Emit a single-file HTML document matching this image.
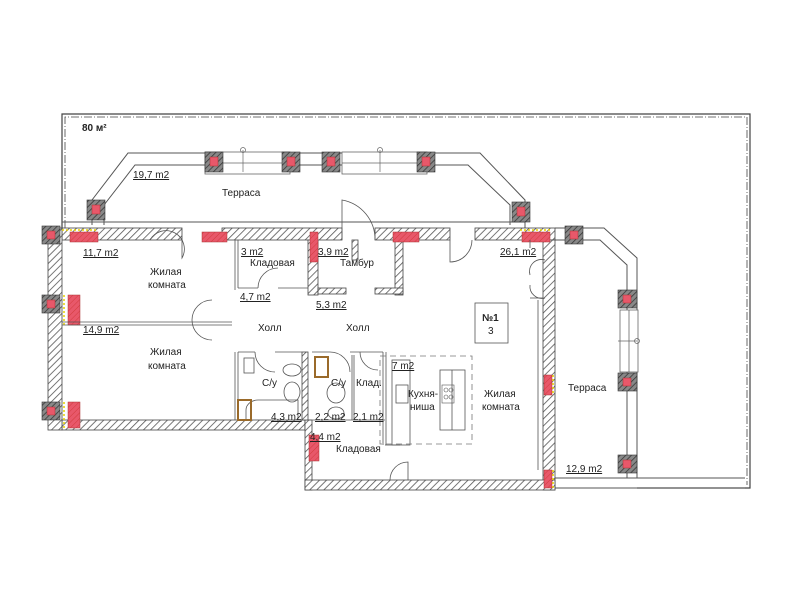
<!DOCTYPE html>
<html><head><meta charset="utf-8"><style>
html,body{margin:0;padding:0;background:#fff;}
svg{display:block;}
text{font-family:"Liberation Sans",sans-serif;font-size:10px;fill:#222;}
.u{text-decoration:underline;}
</style></head><body>
<svg width="800" height="600" viewBox="0 0 800 600" xmlns="http://www.w3.org/2000/svg">
<defs>
<pattern id="h" width="5" height="5" patternUnits="userSpaceOnUse" patternTransform="rotate(45)">
<rect width="5" height="5" fill="#fff"/><line x1="0" y1="0" x2="0" y2="5" stroke="#555" stroke-width="1.6"/></pattern>
<pattern id="hd" width="4" height="4" patternUnits="userSpaceOnUse" patternTransform="rotate(45)">
<rect width="4" height="4" fill="#888"/><line x1="0" y1="0" x2="0" y2="4" stroke="#333" stroke-width="1.5"/></pattern>
<pattern id="hr" width="4" height="4" patternUnits="userSpaceOnUse" patternTransform="rotate(45)">
<rect width="4" height="4" fill="#e8586a"/><line x1="0" y1="0" x2="0" y2="4" stroke="#c33" stroke-width="0.8"/></pattern>
</defs>

<!-- outer terrace frame -->
<g fill="none" stroke="#444" stroke-width="1.2">
<path d="M62,228 V114 H750 V488 H637"/>
<path d="M65,228 V117 H747 V485" stroke-dasharray="8,2,1,2" stroke-width="0.8"/>
</g>
<!-- upper terrace parapet -->
<g fill="none" stroke="#555" stroke-width="1">
<path d="M92,225 V200 L128,153 H480 L525,200 V228"/>
<path d="M104,225 V205 L135,165 H468 L510,205 V225"/>
<line x1="62" y1="222" x2="525" y2="222"/>
<path d="M555,228 H604 L637,258 V478"/>
<path d="M555,240 H600 L627,265 V478"/>
<line x1="555" y1="478" x2="745" y2="478"/>
<line x1="555" y1="488" x2="745" y2="488"/>
</g>
<!-- window bays upper -->
<g fill="#fff" stroke="#666" stroke-width="0.8">
<rect x="205" y="152" width="85" height="22"/><line x1="205" y1="163" x2="290" y2="163"/>
<rect x="342" y="152" width="85" height="22"/><line x1="342" y1="163" x2="427" y2="163"/>
<rect x="620" y="310" width="18" height="62"/><line x1="629" y1="310" x2="629" y2="372"/>
</g>
<g stroke="#666" fill="none" stroke-width="0.7"><line x1="243" y1="150" x2="243" y2="172"/><circle cx="243" cy="150" r="2.5"/><line x1="380" y1="150" x2="380" y2="172"/><circle cx="380" cy="150" r="2.5"/><circle cx="637" cy="341" r="2.5"/><line x1="618" y1="341" x2="637" y2="341"/></g>

<!-- walls -->
<g fill="url(#h)" stroke="#444" stroke-width="0.8">
<rect x="62" y="228" width="120" height="12"/>
<rect x="222" y="228" width="120" height="12"/>
<rect x="375" y="228" width="75" height="12"/>
<rect x="475" y="228" width="80" height="12"/>
<rect x="543" y="240" width="12" height="250"/>
<rect x="62" y="420" width="243" height="10"/>
<rect x="305" y="420" width="7" height="70"/>
<rect x="305" y="480" width="250" height="10"/>
<rect x="302" y="352" width="6" height="68"/>
<rect x="308" y="240" width="10" height="55"/>
<rect x="395" y="240" width="8" height="55"/>
<rect x="318" y="288" width="28" height="6"/>
<rect x="375" y="288" width="28" height="6"/>
<rect x="352" y="240" width="6" height="20"/>
<rect x="48" y="228" width="14" height="202"/>
</g>
<!-- pillars (dark hatched w/ red) -->
<g>
<g fill="url(#hd)" stroke="#333" stroke-width="0.6">
<rect x="87" y="200" width="18" height="20"/><rect x="205" y="152" width="18" height="20"/><rect x="282" y="152" width="18" height="20"/>
<rect x="322" y="152" width="18" height="20"/><rect x="417" y="152" width="18" height="20"/><rect x="512" y="202" width="18" height="20"/>
<rect x="565" y="226" width="18" height="18"/><rect x="618" y="290" width="19" height="18"/><rect x="618" y="373" width="19" height="18"/><rect x="618" y="455" width="19" height="18"/>
<rect x="42" y="226" width="18" height="18"/><rect x="42" y="295" width="18" height="18"/><rect x="42" y="402" width="18" height="18"/>
</g>
<g fill="#e8586a" stroke="#a33" stroke-width="0.5">
<rect x="92" y="205" width="8" height="9"/><rect x="210" y="157" width="8" height="9"/><rect x="287" y="157" width="8" height="9"/>
<rect x="327" y="157" width="8" height="9"/><rect x="422" y="157" width="8" height="9"/><rect x="517" y="207" width="8" height="9"/>
<rect x="570" y="231" width="8" height="8"/><rect x="623" y="295" width="8" height="8"/><rect x="623" y="378" width="8" height="8"/><rect x="623" y="460" width="8" height="8"/>
<rect x="47" y="231" width="8" height="8"/><rect x="47" y="300" width="8" height="8"/><rect x="47" y="407" width="8" height="8"/>
</g>
</g>
<!-- red wall inserts -->
<g fill="url(#hr)" stroke="#a33" stroke-width="0.5">
<rect x="70" y="232" width="28" height="10"/><rect x="202" y="232" width="25" height="10"/><rect x="310" y="232" width="8" height="30"/>
<rect x="393" y="232" width="26" height="10"/><rect x="522" y="232" width="28" height="10"/>
<rect x="544" y="375" width="8" height="20"/><rect x="544" y="470" width="8" height="18"/>
<rect x="68" y="295" width="12" height="30"/><rect x="68" y="402" width="12" height="26"/><rect x="309" y="435" width="10" height="26"/>
</g>
<g fill="none" stroke="#e6d000" stroke-width="1.5" stroke-dasharray="2,2">
<line x1="62" y1="230" x2="98" y2="230"/><line x1="64" y1="295" x2="64" y2="325"/><line x1="64" y1="402" x2="64" y2="428"/>
<line x1="520" y1="230" x2="552" y2="230"/><line x1="553" y1="375" x2="553" y2="395"/><line x1="553" y1="470" x2="553" y2="488"/>
</g>

<!-- interior thin lines -->
<g fill="none" stroke="#555" stroke-width="0.8">
<line x1="62" y1="322" x2="232" y2="322"/><line x1="62" y1="325" x2="232" y2="325"/>
<line x1="235" y1="240" x2="235" y2="290"/><line x1="238" y1="240" x2="238" y2="288"/>
<line x1="238" y1="288" x2="258" y2="288"/><line x1="278" y1="288" x2="308" y2="288"/>
<line x1="235" y1="352" x2="235" y2="420"/><line x1="238" y1="352" x2="238" y2="420"/>
<line x1="238" y1="352" x2="255" y2="352"/><line x1="275" y1="352" x2="302" y2="352"/>
<line x1="312" y1="352" x2="330" y2="352"/><line x1="350" y1="352" x2="383" y2="352"/>
<line x1="352" y1="355" x2="352" y2="420"/><line x1="354" y1="355" x2="354" y2="420"/>
<line x1="383" y1="352" x2="383" y2="445"/><line x1="386" y1="352" x2="386" y2="445"/>
<line x1="308" y1="420" x2="385" y2="420"/><line x1="385" y1="445" x2="400" y2="445"/>
<line x1="530" y1="240" x2="530" y2="248"/>
<line x1="530" y1="298" x2="543" y2="298"/>
<line x1="538" y1="300" x2="538" y2="470"/>
<!-- door arcs -->
<path d="M182,240 V258 A18,18 0 0 0 150,240"/>
<path d="M212,300 A20,20 0 0 0 212,340"/>
<path d="M258,288 A20,20 0 0 1 278,268"/>
<path d="M342,240 V200 A40,40 0 0 1 375,240"/>
<path d="M450,240 V262 A22,22 0 0 0 472,240"/>
<path d="M530,275 A12,12 0 0 1 545,260 M530,285 A12,12 0 0 0 545,298"/>
<path d="M255,352 A20,20 0 0 0 275,372"/>
<path d="M330,352 A20,20 0 0 1 350,372"/>
<path d="M360,352 A18,18 0 0 0 378,370"/>
<path d="M390,480 A18,18 0 0 1 408,462 V480"/>
<!-- kitchen -->
<rect x="392" y="360" width="18" height="85"/>
<rect x="440" y="370" width="25" height="60"/><line x1="452" y1="370" x2="452" y2="430"/>
<rect x="396" y="385" width="12" height="18"/>
<rect x="475" y="303" width="33" height="40"/>
<!-- bath fixtures -->
<rect x="244" y="358" width="10" height="15"/>
<path d="M246,420 V410 A12,10 0 0 1 258,400 H298 V420"/>
<ellipse cx="292" cy="370" rx="9" ry="6"/><ellipse cx="292" cy="392" rx="8" ry="10"/>
<ellipse cx="336" cy="393" rx="9" ry="10"/><ellipse cx="336" cy="413" rx="8" ry="6"/>
</g>
<rect x="380" y="356" width="92" height="88" fill="none" stroke="#777" stroke-width="0.8" stroke-dasharray="6,4"/>
<g fill="none" stroke="#9a6a2a" stroke-width="2"><rect x="238" y="400" width="13" height="20"/><rect x="315" y="357" width="13" height="20"/></g>
<g fill="none" stroke="#555" stroke-width="0.6"><rect x="442" y="385" width="12" height="18"/><circle cx="446" cy="390" r="2"/><circle cx="451" cy="390" r="2"/><circle cx="446" cy="397" r="2"/><circle cx="451" cy="397" r="2"/></g>

<!-- labels -->
<text x="82" y="131" style="font-weight:bold;font-size:10px">80 м²</text>
<text x="133" y="178" class="u">19,7 m2</text>
<text x="222" y="196">Терраса</text>
<text x="83" y="256" class="u">11,7 m2</text>
<text x="150" y="275">Жилая</text><text x="148" y="288">комната</text>
<text x="241" y="255" class="u">3 m2</text><text x="250" y="266">Кладовая</text>
<text x="318" y="255" class="u">3,9 m2</text><text x="340" y="266">Тамбур</text>
<text x="240" y="300" class="u">4,7 m2</text><text x="316" y="308" class="u">5,3 m2</text>
<text x="258" y="331">Холл</text><text x="346" y="331">Холл</text>
<text x="83" y="333" class="u">14,9 m2</text>
<text x="150" y="355">Жилая</text><text x="148" y="369">комната</text>
<text x="262" y="386">С/у</text><text x="331" y="386">С/у</text><text x="356" y="386">Клад.</text>
<text x="392" y="369" class="u">7 m2</text>
<text x="408" y="397">Кухня-</text><text x="410" y="410">ниша</text>
<text x="484" y="397">Жилая</text><text x="482" y="410">комната</text>
<text x="271" y="420" class="u">4,3 m2</text><text x="315" y="420" class="u">2,2 m2</text><text x="353" y="420" class="u">2,1 m2</text>
<text x="310" y="440" class="u">4,4 m2</text><text x="336" y="452">Кладовая</text>
<text x="500" y="255" class="u">26,1 m2</text>
<text x="482" y="321" style="font-weight:bold">№1</text><text x="488" y="334">3</text>
<text x="568" y="391">Терраса</text>
<text x="566" y="472" class="u">12,9 m2</text>
</svg>
</body></html>
